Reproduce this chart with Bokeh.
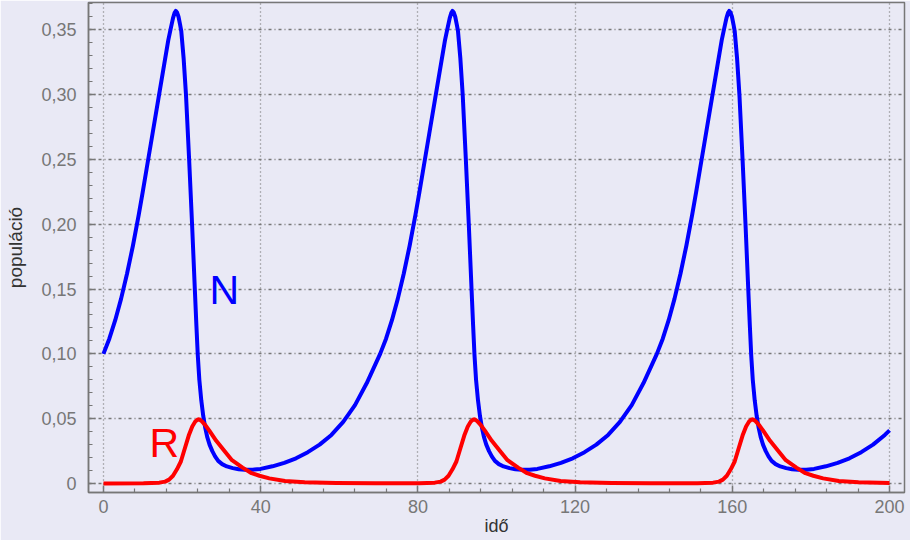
from bokeh.plotting import figure
from bokeh.models import FixedTicker, CustomJSTickFormatter, Label, Range1d
from bokeh.embed import file_html
from bokeh.resources import INLINE

# ---- data ----
t_N = [0.0, 1.5, 3.0, 4.5, 6.0, 7.5, 9.0, 10.0, 11.0, 12.5, 14.0, 15.5, 16.5, 17.2, 17.7, 18.1, 18.4, 18.7, 19.1, 19.5,
       19.8, 20.4, 21.0, 21.8, 22.55, 23.25, 23.65, 24.0, 24.4, 24.9, 25.4, 25.9, 26.4, 27.0, 27.7, 28.4, 29.2, 30.2, 31.4, 32.9,
       34.4, 36.0, 38.0, 40.0, 43.0, 46.0, 49.0, 52.0, 55.0, 58.0, 61.0, 64.0, 67.0,
       70.4, 71.9, 73.4, 74.9, 76.4, 77.9, 79.4, 80.4, 81.4, 82.9, 84.4, 85.9, 86.9, 87.6, 88.1, 88.5, 88.8, 89.1, 89.5, 89.9,
       90.2, 90.8, 91.4, 92.2, 92.95, 93.65, 94.05, 94.4, 94.8, 95.3, 95.8, 96.3, 96.8, 97.4, 98.1, 98.8, 99.6, 100.6, 101.8, 103.3,
       104.8, 106.4, 108.4, 110.4, 113.4, 116.4, 119.4, 122.4, 125.4, 128.4, 131.4, 134.4, 137.4,
       140.8, 142.3, 143.8, 145.3, 146.8, 148.3, 149.8, 150.8, 151.8, 153.3, 154.8, 156.3, 157.3, 158.0, 158.5, 158.9, 159.2, 159.5, 159.9, 160.3,
       160.6, 161.2, 161.8, 162.6, 163.35, 164.05, 164.45, 164.8, 165.2, 165.7, 166.2, 166.7, 167.2, 167.8, 168.5, 169.2, 170.0, 171.0, 172.2, 173.7,
       175.2, 176.8, 178.8, 180.8, 183.8, 186.8, 189.8, 192.8, 195.8, 198.8, 200.0]
N = [0.100, 0.1117, 0.126, 0.1426, 0.1618, 0.1834, 0.2076, 0.225, 0.243, 0.270, 0.297, 0.324, 0.342, 0.352, 0.359, 0.363, 0.3645, 0.3635, 0.360, 0.354,
     0.349, 0.328, 0.300, 0.250, 0.200, 0.150, 0.122, 0.099, 0.080, 0.064, 0.052, 0.043, 0.036, 0.030, 0.025, 0.021, 0.0175, 0.0150, 0.0132, 0.0119,
     0.0111, 0.0106, 0.0107, 0.0113, 0.0133, 0.0160, 0.0195, 0.0242, 0.030, 0.0375, 0.0475, 0.0605, 0.0775,
     0.100, 0.1117, 0.126, 0.1426, 0.1618, 0.1834, 0.2076, 0.225, 0.243, 0.270, 0.297, 0.324, 0.342, 0.352, 0.359, 0.363, 0.3645, 0.3635, 0.360, 0.354,
     0.349, 0.328, 0.300, 0.250, 0.200, 0.150, 0.122, 0.099, 0.080, 0.064, 0.052, 0.043, 0.036, 0.030, 0.025, 0.021, 0.0175, 0.0150, 0.0132, 0.0119,
     0.0111, 0.0106, 0.0107, 0.0113, 0.0133, 0.0160, 0.0195, 0.0242, 0.030, 0.0375, 0.0475, 0.0605, 0.0775,
     0.100, 0.1117, 0.126, 0.1426, 0.1618, 0.1834, 0.2076, 0.225, 0.243, 0.270, 0.297, 0.324, 0.342, 0.352, 0.359, 0.363, 0.3645, 0.3635, 0.360, 0.354,
     0.349, 0.328, 0.300, 0.250, 0.200, 0.150, 0.122, 0.099, 0.080, 0.064, 0.052, 0.043, 0.036, 0.030, 0.025, 0.021, 0.0175, 0.0150, 0.0132, 0.0119,
     0.0111, 0.0106, 0.0107, 0.0113, 0.0133, 0.0160, 0.0195, 0.0242, 0.030, 0.0375, 0.041]

t_R = [0.0, 10.2, 14.2, 15.7, 16.7, 17.7, 18.7, 19.7, 20.7, 21.7, 22.6, 23.4, 23.9, 24.2, 24.5, 25.0, 25.8, 26.9, 28.7, 31.1, 32.7, 35.4,
       37.7, 39.7, 42.2, 46.2, 51.2, 59.2, 69.2,
       80.3, 84.3, 85.8, 86.8, 87.8, 88.8, 89.8, 90.8, 91.8, 92.7, 93.5, 94.0, 94.3, 94.6, 95.1, 95.9, 97.0, 98.8, 101.2, 102.8, 105.5,
       107.8, 109.8, 112.3, 116.3, 121.3, 129.3, 139.3,
       151.1, 155.1, 156.6, 157.6, 158.6, 159.6, 160.6, 161.6, 162.6, 163.5, 164.3, 164.8, 165.1, 165.4, 165.9, 166.7, 167.8, 169.6, 172.0, 173.6, 176.3,
       178.6, 180.6, 183.1, 187.1, 192.1, 200.0]
R = [0.0001, 0.0003, 0.0007, 0.0015, 0.003, 0.006, 0.011, 0.017, 0.027, 0.037, 0.044, 0.048, 0.0492, 0.0495, 0.0492, 0.0482, 0.0455, 0.041, 0.033, 0.024, 0.018, 0.0123,
     0.008, 0.006, 0.004, 0.002, 0.001, 0.0004, 0.0002,
     0.0003, 0.0007, 0.0015, 0.003, 0.006, 0.011, 0.017, 0.027, 0.037, 0.044, 0.048, 0.0492, 0.0495, 0.0492, 0.0482, 0.0455, 0.041, 0.033, 0.024, 0.018, 0.0123,
     0.008, 0.006, 0.004, 0.002, 0.001, 0.0004, 0.0002,
     0.0003, 0.0007, 0.0015, 0.003, 0.006, 0.011, 0.017, 0.027, 0.037, 0.044, 0.048, 0.0492, 0.0495, 0.0492, 0.0482, 0.0455, 0.041, 0.033, 0.024, 0.018, 0.0123,
     0.008, 0.006, 0.004, 0.002, 0.001, 0.0005]

x_ticks = [0, 40, 80, 120, 160, 200]
x_minor = [8, 16, 24, 32, 48, 56, 64, 72, 88, 96, 104, 112, 128, 136, 144, 152, 168, 176, 184, 192]
y_ticks = [0.0, 0.05, 0.10, 0.15, 0.20, 0.25, 0.30, 0.35]
y_minor = [0.01, 0.02, 0.03, 0.04, 0.06, 0.07, 0.08, 0.09, 0.11, 0.12, 0.13, 0.14, 0.16, 0.17, 0.18, 0.19,
           0.21, 0.22, 0.23, 0.24, 0.26, 0.27, 0.28, 0.29, 0.31, 0.32, 0.33, 0.34, 0.36, 0.37]

x_label = "idő"
y_label = "populáció"

BG = "#E9E9F5"
FONT = "Liberation Sans"
GREY = "#777777"

p = figure(width=910, height=540, output_backend="svg", toolbar_location=None,
           x_range=Range1d(-3.8, 203.8), y_range=Range1d(-0.0069, 0.371),
           min_border_left=88, min_border_right=6, min_border_top=2, min_border_bottom=48,
           background_fill_color=BG, border_fill_color=BG)
p.outline_line_color = GREY
p.outline_line_width = 1.5

for ax in (p.xaxis[0], p.yaxis[0]):
    ax.axis_line_color = GREY
    ax.axis_line_width = 1.5
    ax.major_tick_line_color = GREY
    ax.minor_tick_line_color = GREY
    ax.major_tick_line_width = 1.5
    ax.minor_tick_line_width = 1.2
    ax.major_tick_in = 7
    ax.major_tick_out = 0
    ax.minor_tick_in = 4
    ax.minor_tick_out = 0
    ax.major_label_text_font = FONT
    ax.major_label_text_font_size = "18px"
    ax.major_label_text_color = GREY
    ax.axis_label_text_font = FONT
    ax.axis_label_text_font_style = "normal"
    ax.axis_label_text_color = "#333333"

p.xaxis.axis_label_text_font_size = "18px"
p.yaxis.axis_label_text_font_size = "19px"
p.xaxis.ticker = FixedTicker(ticks=x_ticks, minor_ticks=x_minor)
p.yaxis.ticker = FixedTicker(ticks=y_ticks, minor_ticks=y_minor)
p.xaxis.formatter = CustomJSTickFormatter(code="return tick.toFixed(0);")
p.yaxis.formatter = CustomJSTickFormatter(
    code="return Math.abs(tick) < 1e-9 ? '0' : tick.toFixed(2).replace('.', ',');")
p.xaxis.axis_label = x_label
p.yaxis.axis_label = y_label
p.xaxis.major_label_standoff = 7
p.xaxis.axis_label_standoff = 0
p.yaxis.major_label_standoff = 12
p.yaxis.axis_label_standoff = 12

p.xgrid.grid_line_color = GREY
p.xgrid.grid_line_width = 1.3
p.xgrid.grid_line_dash = "1 3"
p.ygrid.grid_line_color = GREY
p.ygrid.grid_line_width = 1.3
p.ygrid.grid_line_dash = "3 3 1 3"

p.line(t_N, N, line_color="#0000FF", line_width=4, line_join="round")
p.line(t_R, R, line_color="#FF0000", line_width=4, line_join="round")

p.add_layout(Label(x=27, y=0.149, text="N", text_color="#0000FF", text_font=FONT,
                   text_font_size="41px", text_baseline="alphabetic"))
p.add_layout(Label(x=11.7, y=0.0316, text="R", text_color="#FF0000", text_font=FONT,
                   text_font_size="41px", text_baseline="alphabetic"))

open("out.html", "w").write(file_html(p, INLINE))
